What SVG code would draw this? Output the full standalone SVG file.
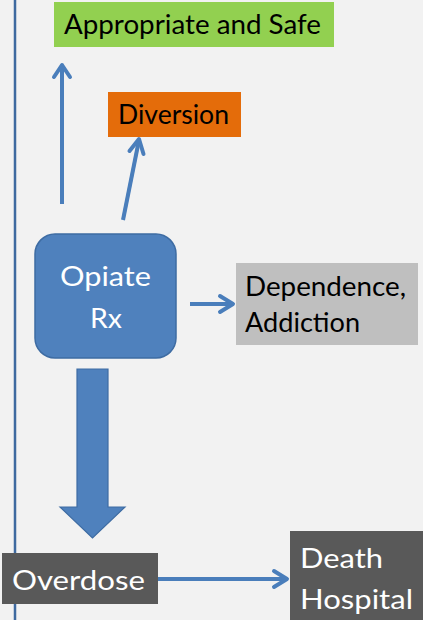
<svg xmlns="http://www.w3.org/2000/svg" width="423" height="620" viewBox="0 0 423 620">
<defs>
<style>
text{font-family:Lato,"Open Sans","Liberation Sans",sans-serif;}
.dk{fill:#000;font-size:26px;}
.wt{fill:#fff;font-size:27px;}
.conn{stroke:#4a7ebb;stroke-width:4;fill:none;}
.head{stroke:#4a7ebb;stroke-width:4;fill:none;stroke-linecap:round;stroke-linejoin:round;}
</style>
</defs>
<rect width="423" height="620" fill="#f2f2f2"/>
<line x1="15" y1="0" x2="15" y2="620" stroke="#3f6aa0" stroke-width="2.5"/>
<g id="appropriate">
<rect x="54" y="2" width="280" height="45" fill="#92d050"/>
<text class="dk" x="64" y="34" textLength="257" lengthAdjust="spacingAndGlyphs">Appropriate and Safe</text>
</g>
<g id="diversion">
<rect x="108" y="92" width="133" height="45" fill="#e46c0a"/>
<text class="dk" x="118" y="124" textLength="111" lengthAdjust="spacingAndGlyphs">Diversion</text>
</g>
<g id="opiate">
<rect x="35" y="234" width="141" height="124" rx="20" fill="#4f81bd" stroke="#3e6ca3" stroke-width="1.5"/>
<text class="wt" x="60" y="286" textLength="91" lengthAdjust="spacingAndGlyphs">Opiate</text>
<text class="wt" x="90" y="328" textLength="32" lengthAdjust="spacingAndGlyphs">Rx</text>
</g>
<g id="dependence">
<rect x="236" y="263" width="182" height="82" fill="#bfbfbf"/>
<text class="dk" x="245" y="296" font-size="25" textLength="161" lengthAdjust="spacingAndGlyphs">Dependence,</text>
<text class="dk" x="245" y="332" font-size="25" textLength="115" lengthAdjust="spacingAndGlyphs">Addiction</text>
</g>
<g id="overdose">
<rect x="2" y="553" width="156" height="51" fill="#595959"/>
<text class="wt" x="12" y="590" textLength="133" lengthAdjust="spacingAndGlyphs">Overdose</text>
</g>
<g id="death">
<rect x="290" y="531" width="135" height="92" fill="#595959"/>
<text class="wt" x="300" y="568" font-size="28" textLength="83" lengthAdjust="spacingAndGlyphs">Death</text>
<text class="wt" x="300" y="609" font-size="28" textLength="113" lengthAdjust="spacingAndGlyphs">Hospital</text>
</g>
<g id="connectors">
<line class="conn" x1="62" y1="204" x2="62" y2="66"/>
<path class="head" d="M54,77 L62,65 L70,77"/>
<line class="conn" x1="123" y1="220" x2="139" y2="140"/>
<path class="head" d="M129.5,151 L139,139 L143.5,154"/>
<line class="conn" x1="190" y1="304" x2="232" y2="304"/>
<path class="head" d="M220,296 L233,304 L220,312"/>
<line class="conn" x1="158" y1="579" x2="286" y2="579"/>
<path class="head" d="M274,571 L287,579 L274,587"/>
<path d="M77,369 H108 V507 H125 L92.5,538 L60,507 H77 Z" fill="#4f81bd" stroke="#3e6ca3" stroke-width="1.2"/>
</g>
</svg>
